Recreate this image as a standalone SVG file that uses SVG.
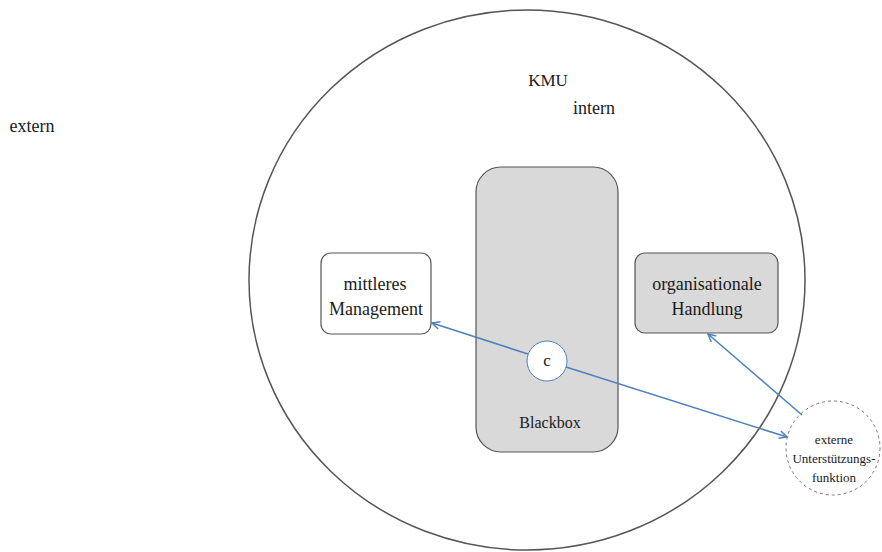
<svg xmlns="http://www.w3.org/2000/svg" width="882" height="552" viewBox="0 0 882 552" font-family="'Liberation Serif', 'DejaVu Serif', serif">
  <style>
    text { font-family: 'Liberation Serif', 'DejaVu Serif', serif; fill: #1a1a1a; text-anchor: middle; }
    .box { stroke: #555; stroke-width: 1.2; }
    .grey { fill: #d9d9d9; }
    .white { fill: #fff; }
    .link { stroke: #4f81bd; stroke-width: 1.6; fill: none; marker-end: url(#arrow); }
  </style>
  <defs>
    <marker id="arrow" viewBox="0 0 10 10" refX="9" refY="5" markerWidth="6" markerHeight="6" markerUnits="strokeWidth" orient="auto">
      <path d="M1,1 L9,5 L1,9" fill="none" stroke="#4f81bd" stroke-width="1.6"/>
    </marker>
  </defs>

  <rect width="882" height="552" fill="#fff"/>

  <g id="extern">
    <text x="32" y="132" font-size="18">extern</text>
  </g>

  <g id="kmu">
    <ellipse cx="527" cy="280" rx="278" ry="270" fill="none" stroke="#555" stroke-width="1.5"/>
    <text x="548" y="86" font-size="17">KMU</text>
    <text x="594" y="114" font-size="18">intern</text>
  </g>

  <g id="blackbox">
    <rect class="box grey" x="476" y="167" width="142" height="285" rx="25"/>
    <text x="550" y="428" font-size="16">Blackbox</text>
  </g>

  <g id="mittleres-management">
    <rect class="box white" x="321" y="253" width="110" height="81" rx="10"/>
    <text x="375" y="290" font-size="18">mittleres</text>
    <text x="376" y="315" font-size="18">Management</text>
  </g>

  <g id="organisationale-handlung">
    <rect class="box grey" x="635" y="253" width="143" height="80" rx="10"/>
    <text x="707" y="290" font-size="18">organisationale</text>
    <text x="707" y="315" font-size="18">Handlung</text>
  </g>

  <g id="connectors">
    <line class="link" x1="528" y1="354" x2="432" y2="323"/>
    <line class="link" x1="566" y1="367" x2="787" y2="437"/>
    <line class="link" x1="802" y1="415" x2="708" y2="334"/>
  </g>

  <g id="c">
    <circle cx="547" cy="361" r="20" fill="#fff" stroke="#4f81bd" stroke-width="1"/>
    <text x="547" y="366" font-size="17">c</text>
  </g>

  <g id="externe-unterstuetzungsfunktion">
    <circle cx="833" cy="448" r="47" fill="none" stroke="#777" stroke-width="1" stroke-dasharray="3 3"/>
    <text x="834" y="444" font-size="13">externe</text>
    <text x="834" y="463" font-size="13">Unterstützungs-</text>
    <text x="834" y="482" font-size="13">funktion</text>
  </g>
</svg>
